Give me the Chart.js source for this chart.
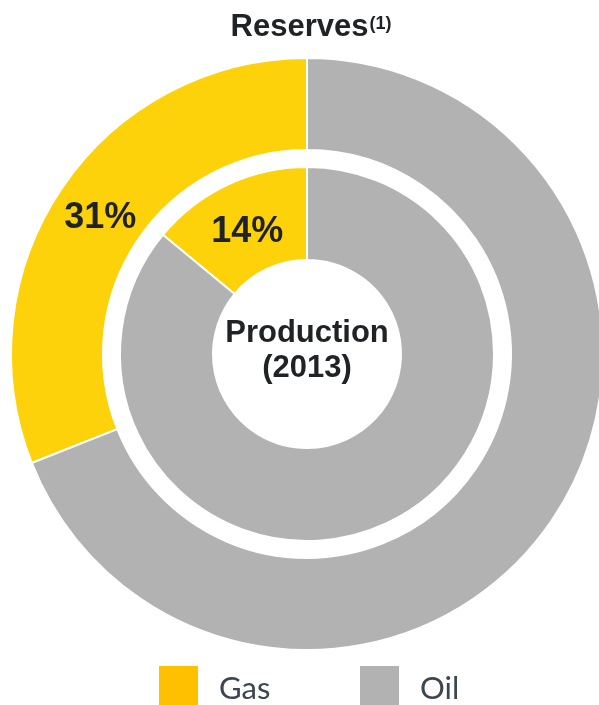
<!DOCTYPE html>
<html>
<head>
<meta charset="utf-8">
<script src="https://cdn.jsdelivr.net/npm/chart.js@4.4.0/dist/chart.umd.min.js"></script>
<style>
	html, body { margin: 0; padding: 0; background: #fff; overflow: hidden; }
	#wrap { width: 599px; height: 705px; overflow: hidden; position: relative; }
	canvas { position: absolute; left: 0; top: 0; }
</style>
</head>
<body>
<div id="wrap"><canvas id="reservesChart" width="620" height="705"></canvas></div>
<script>
var categories = ['Gas', 'Oil'];
var reserves = [31, 69];     // outer ring, %
var production = [14, 86];   // inner ring (2013), %
var chartColors = ['#FDD20B', '#B2B2B2'];
var legendColors = ['#FFC000', '#B2B2B2'];

var boldFont = '"Liberation Sans", Arial, sans-serif';

// text on top of the rings: title, % labels, centre text, legend
var extras = {
	id: 'extras',
	afterDatasetsDraw: function(chart) {
		var ctx = chart.ctx;
		ctx.save();
		ctx.fillStyle = '#1F2326';
		ctx.textBaseline = 'alphabetic';

		// title with superscript
		ctx.font = 'bold 31px ' + boldFont;
		var w1 = ctx.measureText('Reserves').width;
		ctx.font = 'bold 18px ' + boldFont;
		var w2 = ctx.measureText('(1)').width;
		var x0 = 310.5 - (w1 + w2) / 2;
		ctx.textAlign = 'left';
		ctx.font = 'bold 31px ' + boldFont;
		ctx.fillText('Reserves', x0, 36);
		ctx.font = 'bold 18px ' + boldFont;
		ctx.fillText('(1)', x0 + w1 + 1, 29);

		// gas share labels
		ctx.textAlign = 'center';
		ctx.font = 'bold 36px ' + boldFont;
		[0, 2].forEach(function(di) {
			var p = chart.getDatasetMeta(di).data[0].tooltipPosition();
			ctx.fillText(chart.data.datasets[di].data[0] + '%', p.x, p.y + 15);
		});

		// centre text
		var c = chart.getDatasetMeta(2).data[0];
		ctx.font = 'bold 31px ' + boldFont;
		ctx.fillText('Production', c.x, c.y - 12);
		ctx.fillText('(2013)', c.x, c.y + 23);

		// legend
		var lx = [159, 360];
		ctx.textAlign = 'left';
		ctx.font = '31px Lato, "Open Sans", sans-serif';
		categories.forEach(function(name, i) {
			ctx.fillStyle = legendColors[i];
			ctx.fillRect(lx[i], 666, 39, 39);
			ctx.fillStyle = '#3B4650';
			ctx.fillText(name, lx[i] + 60, 699);
		});
		ctx.restore();
	}
};

var ctx = document.getElementById('reservesChart').getContext('2d');
new Chart(ctx, {
	type: 'doughnut',
	data: {
		labels: categories,
		datasets: [{
			label: 'Reserves',
			data: reserves,
			backgroundColor: chartColors,
			borderColor: '#ffffff',
			borderWidth: 2,
			weight: 92,
			rotation: -reserves[0] / 100 * 360
		}, {
			label: 'gap',
			data: [1],
			backgroundColor: ['#ffffff'],
			borderWidth: 0,
			weight: 17
		}, {
			label: 'Production',
			data: production,
			backgroundColor: chartColors,
			borderColor: '#ffffff',
			borderWidth: 2,
			weight: 93,
			rotation: -production[0] / 100 * 360
		}]
	},
	options: {
		responsive: false,
		animation: false,
		cutout: '31.76%',
		layout: { padding: { left: 10, right: 16, top: 57, bottom: 54 } },
		events: [],
		plugins: {
			legend: { display: false },
			tooltip: { enabled: false },
			title: { display: false }
		}
	},
	plugins: [extras]
});
</script>
</body>
</html>
